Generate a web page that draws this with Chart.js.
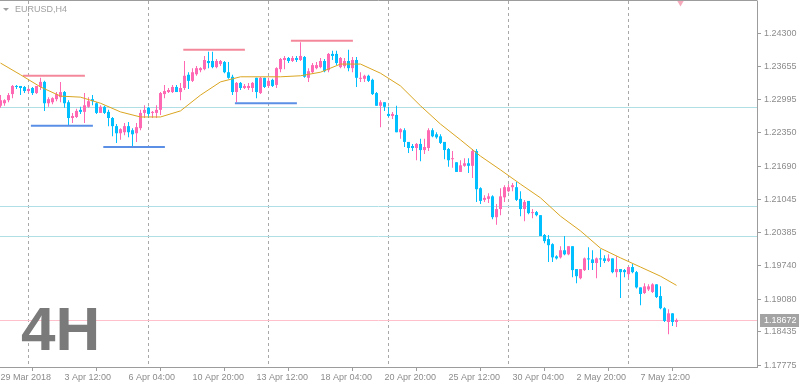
<!DOCTYPE html>
<html><head><meta charset="utf-8">
<script src="https://cdn.jsdelivr.net/npm/chart.js@4.4.1/dist/chart.umd.min.js"></script>
<style>html,body{margin:0;padding:0;background:#fff;overflow:hidden}#wrap{width:799px;height:388px;position:relative}</style>
</head><body><div id="wrap"><canvas id="c" width="799" height="388"></canvas></div>
<script>
// ---- data (EURUSD H4, 170 candles) ----
const openP = [
1.2288,1.2293,1.2299,1.2311,1.2327,1.2327,1.2325,1.2317,1.2323,1.2313,
1.2325,1.2335,1.2293,1.2295,1.2301,1.2305,1.2315,1.2295,1.2264,1.2266,
1.2280,1.2276,1.2286,1.2301,1.2293,1.2274,1.2286,1.2276,1.2264,1.2248,
1.2234,1.2236,1.2248,1.2240,1.2234,1.2244,1.2274,1.2284,1.2274,1.2274,
1.2280,1.2311,1.2315,1.2315,1.2325,1.2315,1.2323,1.2349,1.2337,1.2350,
1.2358,1.2360,1.2376,1.2376,1.2364,1.2370,1.2374,1.2354,1.2345,1.2315,
1.2333,1.2323,1.2323,1.2323,1.2343,1.2313,1.2343,1.2327,1.2339,1.2329,
1.2360,1.2378,1.2382,1.2376,1.2382,1.2378,1.2384,1.2343,1.2354,1.2362,
1.2364,1.2376,1.2358,1.2390,1.2390,1.2364,1.2366,1.2376,1.2362,1.2378,
1.2341,1.2341,1.2347,1.2339,1.2313,1.2288,1.2295,1.2272,1.2268,1.2270,
1.2236,1.2240,1.2217,1.2209,1.2205,1.2213,1.2201,1.2205,1.2240,1.2232,
1.2228,1.2217,1.2203,1.2183,1.2177,1.2158,1.2170,1.2175,1.2170,1.2199,
1.2126,1.2103,1.2105,1.2110,1.2069,1.2085,1.2108,1.2120,1.2128,1.2128,
1.2105,1.2085,1.2101,1.2077,1.2079,1.2073,1.2034,1.2026,1.2016,1.1992,
1.1990,1.2004,1.1996,1.2012,1.1967,1.1949,1.1965,1.1988,1.1986,1.1979,
1.1988,1.1988,1.1983,1.1988,1.1961,1.1967,1.1965,1.1957,1.1971,1.1961,
1.1931,1.1920,1.1927,1.1922,1.1937,1.1914,1.1890,1.1863,1.1880,1.1863];
const highP = [
1.2309,1.2301,1.2313,1.2329,1.2329,1.2327,1.2327,1.2323,1.2325,1.2327,
1.2343,1.2337,1.2305,1.2305,1.2315,1.2335,1.2317,1.2299,1.2274,1.2282,
1.2286,1.2313,1.2305,1.2309,1.2295,1.2289,1.2288,1.2280,1.2266,1.2252,
1.2244,1.2254,1.2256,1.2244,1.2254,1.2280,1.2289,1.2286,1.2278,1.2289,
1.2315,1.2329,1.2323,1.2329,1.2329,1.2333,1.2376,1.2354,1.2362,1.2366,
1.2364,1.2386,1.2394,1.2394,1.2380,1.2378,1.2376,1.2374,1.2349,1.2335,
1.2335,1.2331,1.2333,1.2335,1.2343,1.2345,1.2343,1.2343,1.2341,1.2364,
1.2382,1.2386,1.2384,1.2386,1.2386,1.2413,1.2386,1.2362,1.2372,1.2374,
1.2382,1.2380,1.2392,1.2396,1.2396,1.2384,1.2382,1.2398,1.2384,1.2384,
1.2354,1.2349,1.2349,1.2341,1.2315,1.2299,1.2295,1.2286,1.2276,1.2288,
1.2244,1.2244,1.2217,1.2213,1.2215,1.2223,1.2223,1.2244,1.2244,1.2236,
1.2232,1.2217,1.2205,1.2199,1.2177,1.2181,1.2185,1.2185,1.2203,1.2203,
1.2128,1.2112,1.2116,1.2112,1.2095,1.2126,1.2132,1.2134,1.2136,1.2138,
1.2120,1.2103,1.2101,1.2085,1.2081,1.2073,1.2036,1.2034,1.2018,1.1994,
1.2012,1.2032,1.2012,1.2012,1.1967,1.1967,1.1990,1.2010,1.2004,1.1990,
1.2006,1.1994,1.1996,1.1988,1.1992,1.1967,1.1967,1.1971,1.1977,1.1963,
1.1931,1.1939,1.1937,1.1939,1.1937,1.1933,1.1892,1.1888,1.1880,1.1870];
const lowP = [
1.2284,1.2288,1.2295,1.2303,1.2321,1.2309,1.2313,1.2313,1.2309,1.2311,
1.2319,1.2278,1.2286,1.2291,1.2297,1.2295,1.2284,1.2250,1.2254,1.2264,
1.2272,1.2254,1.2284,1.2289,1.2272,1.2274,1.2272,1.2248,1.2228,1.2215,
1.2221,1.2230,1.2226,1.2209,1.2217,1.2240,1.2264,1.2264,1.2264,1.2264,
1.2270,1.2303,1.2313,1.2313,1.2315,1.2299,1.2319,1.2321,1.2335,1.2347,
1.2354,1.2358,1.2362,1.2362,1.2362,1.2366,1.2352,1.2341,1.2309,1.2295,
1.2319,1.2321,1.2319,1.2315,1.2303,1.2311,1.2323,1.2323,1.2325,1.2323,
1.2354,1.2360,1.2372,1.2374,1.2374,1.2376,1.2343,1.2335,1.2352,1.2360,
1.2362,1.2354,1.2354,1.2378,1.2368,1.2362,1.2362,1.2356,1.2354,1.2325,
1.2335,1.2335,1.2335,1.2309,1.2288,1.2246,1.2278,1.2266,1.2262,1.2236,
1.2223,1.2207,1.2195,1.2199,1.2181,1.2179,1.2193,1.2199,1.2226,1.2223,
1.2213,1.2183,1.2168,1.2166,1.2158,1.2158,1.2168,1.2156,1.2146,1.2099,
1.2095,1.2099,1.2097,1.2065,1.2054,1.2073,1.2099,1.2118,1.2120,1.2101,
1.2071,1.2061,1.2075,1.2067,1.2071,1.2032,1.2018,1.1981,1.1981,1.1986,
1.1988,1.1994,1.1994,1.1951,1.1939,1.1947,1.1963,1.1965,1.1965,1.1949,
1.1971,1.1979,1.1981,1.1959,1.1951,1.1910,1.1951,1.1949,1.1959,1.1929,
1.1896,1.1918,1.1924,1.1920,1.1910,1.1888,1.1863,1.1839,1.1855,1.1853];
const closeP = [
1.2299,1.2299,1.2309,1.2327,1.2325,1.2323,1.2317,1.2321,1.2313,1.2327,
1.2335,1.2293,1.2301,1.2303,1.2311,1.2315,1.2293,1.2264,1.2268,1.2278,
1.2276,1.2289,1.2297,1.2297,1.2274,1.2286,1.2274,1.2264,1.2248,1.2234,
1.2242,1.2248,1.2236,1.2232,1.2246,1.2274,1.2280,1.2272,1.2276,1.2280,
1.2313,1.2317,1.2319,1.2325,1.2315,1.2323,1.2347,1.2337,1.2354,1.2362,
1.2362,1.2378,1.2372,1.2364,1.2376,1.2376,1.2354,1.2343,1.2315,1.2333,
1.2323,1.2327,1.2327,1.2333,1.2315,1.2343,1.2325,1.2337,1.2327,1.2362,
1.2380,1.2382,1.2376,1.2382,1.2378,1.2386,1.2345,1.2356,1.2368,1.2368,
1.2376,1.2356,1.2390,1.2386,1.2372,1.2382,1.2376,1.2362,1.2378,1.2343,
1.2343,1.2347,1.2337,1.2311,1.2288,1.2295,1.2286,1.2268,1.2272,1.2236,
1.2242,1.2217,1.2205,1.2205,1.2213,1.2201,1.2207,1.2240,1.2228,1.2226,
1.2215,1.2201,1.2181,1.2185,1.2158,1.2171,1.2175,1.2170,1.2199,1.2124,
1.2101,1.2107,1.2110,1.2069,1.2085,1.2110,1.2128,1.2128,1.2132,1.2103,
1.2085,1.2099,1.2077,1.2079,1.2073,1.2032,1.2022,1.2014,1.1990,1.1988,
1.2004,1.1996,1.2012,1.1965,1.1953,1.1967,1.1988,1.1986,1.1979,1.1988,
1.1986,1.1983,1.1988,1.1961,1.1967,1.1961,1.1961,1.1971,1.1961,1.1931,
1.1918,1.1933,1.1933,1.1937,1.1912,1.1890,1.1865,1.1880,1.1863,1.1867];

// moving average (bar index -> price)
const maIdx = [0,5,10,15,20,25,30,35,40,45,50,55,60,65,70,75,80,85,90,95,100,105,110,115,120,125,130,135,140,145,150,155,160,165,169];
const maVal = [1.2372,1.2349,1.2325,1.2307,1.2305,1.2293,1.2276,1.2266,1.2266,1.2278,1.2309,1.2335,1.2345,1.2345,1.2345,1.2347,1.2354,1.2370,1.2370,1.2352,1.2327,1.2288,1.2252,1.2221,1.2189,1.2162,1.2134,1.2107,1.2071,1.2042,1.2008,1.1989,1.1971,1.1953,1.1935];

// axis labels
const xTickIdx = [0,16,32,48,64,80,96,112,128,144,160];
const xTickLabels = ['29 Mar 2018','3 Apr 12:00','6 Apr 04:00','10 Apr 20:00','13 Apr 12:00','18 Apr 04:00','20 Apr 20:00','25 Apr 12:00','30 Apr 04:00','2 May 20:00','7 May 12:00'];
const yTickVals = [1.24300,1.23655,1.22995,1.22350,1.21690,1.21045,1.20385,1.19740,1.19080,1.18435,1.17775];
const weekSepIdx = [7,37,67,97,127,157];

// horizontal levels
const levelPrices = [1.2286,1.2091,1.2033];
const currentPrice = 1.18672;

// resistance (pink) and support (blue) segments
const resStart = [5.6,45.7,72.6];
const resEnd   = [21.1,61.1,88.1];
const resPrice = [1.2347,1.2398,1.2416];
const supStart = [7.6,25.7,58.6];
const supEnd   = [23.1,41.1,74.1];
const supPrice = [1.2249,1.2207,1.2293];

const markIdx = [170];
const markPrice = [1.2493];

// ---- build ----
const BULL = '#ff69b4', BEAR = '#00bfff', GREY = '#9c9c9c';
const n = openP.length;
const idx = Array.from({length:n},(_,i)=>i);
const candleCol = idx.map(i => closeP[i] >= openP[i] ? BULL : BEAR);
const wickData = idx.map(i => ({x:i, y:[lowP[i], highP[i]]}));
const bodyData = idx.map(i => ({x:i, y:[openP[i], closeP[i]]}));

const datasets = [
  {type:'bar', data:wickData, backgroundColor:candleCol, barThickness:1, grouped:false, minBarLength:1, inflateAmount:0, borderWidth:0, order:3},
  {type:'bar', data:bodyData, backgroundColor:candleCol, barThickness:3, grouped:false, minBarLength:1, inflateAmount:0, borderWidth:0, order:2},
  {type:'line', data:maIdx.map((v,k)=>({x:v,y:maVal[k]})), borderColor:'#daa520', borderWidth:1, pointRadius:0, tension:0, order:0}
];
resStart.forEach((s,k)=>datasets.push({type:'line', data:[{x:s,y:resPrice[k]},{x:resEnd[k],y:resPrice[k]}], borderColor:'#f4889a', borderWidth:2, pointRadius:0, order:0}));
supStart.forEach((s,k)=>datasets.push({type:'line', data:[{x:s,y:supPrice[k]},{x:supEnd[k],y:supPrice[k]}], borderColor:'#5b8fe6', borderWidth:2, pointRadius:0, order:0}));
datasets.push({type:'line', data:markIdx.map((v,k)=>({x:v,y:markPrice[k]})), showLine:false, pointStyle:'triangle', rotation:180, pointRadius:5, pointBackgroundColor:'#f6a9bb', pointBorderWidth:0, order:0});

const FONT = 'Liberation Sans';

const decor = {
  id:'decor',
  beforeDatasetsDraw(chart){
    const {ctx, chartArea:a, scales:{x,y}} = chart;
    ctx.save();
    ctx.lineWidth = 1;
    ctx.strokeStyle = '#a8a8a8';
    ctx.setLineDash([3,3]);
    weekSepIdx.forEach(v=>{
      const px = Math.floor(x.getPixelForValue(v)) + 0.5;
      ctx.beginPath(); ctx.moveTo(px, a.top); ctx.lineTo(px, a.bottom); ctx.stroke();
    });
    ctx.setLineDash([]);
    ctx.strokeStyle = '#b0e0e6';
    levelPrices.forEach(p=>{
      const py = Math.round(y.getPixelForValue(p)) + 0.5;
      ctx.beginPath(); ctx.moveTo(a.left, py); ctx.lineTo(a.right, py); ctx.stroke();
    });
    ctx.strokeStyle = '#ffc0cb';
    const cy = Math.round(y.getPixelForValue(currentPrice)) + 0.5;
    ctx.beginPath(); ctx.moveTo(a.left, cy); ctx.lineTo(a.right, cy); ctx.stroke();
    ctx.restore();
  },
  afterDraw(chart){
    const {ctx, chartArea:a, scales:{y}} = chart;
    ctx.save();
    ctx.strokeStyle = GREY; ctx.lineWidth = 1;
    ctx.beginPath(); ctx.moveTo(a.left, a.top - 0.5); ctx.lineTo(a.right + 0.5, a.top - 0.5); ctx.stroke();
    // title
    ctx.fillStyle = '#a0a0a0';
    ctx.beginPath(); ctx.moveTo(3,8); ctx.lineTo(9,8); ctx.lineTo(6,11); ctx.closePath(); ctx.fill();
    ctx.font = '9px "' + FONT + '"';
    ctx.textBaseline = 'middle'; ctx.textAlign = 'left';
    ctx.fillText('EURUSD,H4', 15, 10);
    // big timeframe label
    ctx.fillStyle = '#7a7a7a';
    ctx.font = 'bold 62px "' + FONT + '"';
    ctx.textBaseline = 'alphabetic';
    ctx.fillText('4H', 21, 350);
    // current price box
    const cy = Math.round(y.getPixelForValue(currentPrice));
    ctx.fillStyle = '#a3a3a3';
    ctx.fillRect(a.right + 3, cy - 6, 799 - a.right - 3, 13);
    ctx.fillStyle = '#ffffff';
    ctx.font = '9px "' + FONT + '"';
    ctx.textBaseline = 'middle';
    ctx.fillText(currentPrice.toFixed(5), a.right + 7, cy + 0.5);
    ctx.restore();
  }
};

function zeroPad(s){ s.paddingTop = 0; s.paddingBottom = 0; s.paddingLeft = 0; s.paddingRight = 0; }

new Chart(document.getElementById('c'), {
  type:'bar',
  data:{datasets},
  plugins:[decor],
  options:{
    responsive:false, animation:false, devicePixelRatio:1,
    layout:{autoPadding:false, padding:{top:1,left:0,right:0,bottom:0}},
    plugins:{legend:{display:false}, tooltip:{enabled:false}},
    scales:{
      x:{
        type:'linear', position:'bottom', min:-0.125, max:189.125, offset:false,
        afterBuildTicks:s=>{ s.ticks = xTickIdx.map(v=>({value:v})); },
        afterFit:s=>{ s.height = 21; zeroPad(s); },
        ticks:{ callback:(v,i)=>xTickLabels[i], align:'start', maxRotation:0, autoSkip:false, padding:1,
                color:'#8c8c8c', font:{family:FONT, size:9} },
        grid:{ display:true, drawOnChartArea:false, drawTicks:true, tickLength:4, color:GREY },
        border:{ display:true, color:GREY }
      },
      y:{
        type:'linear', position:'right', min:1.17745, max:1.24940,
        afterBuildTicks:s=>{ s.ticks = yTickVals.map(v=>({value:v})); },
        afterFit:s=>{ s.width = 42; zeroPad(s); },
        ticks:{ callback:v=>Number(v).toFixed(5), padding:3, autoSkip:false,
                color:'#8c8c8c', font:{family:FONT, size:9} },
        grid:{ display:true, drawOnChartArea:false, drawTicks:true, tickLength:4, color:GREY },
        border:{ display:true, color:GREY }
      }
    }
  }
});
</script></body></html>
